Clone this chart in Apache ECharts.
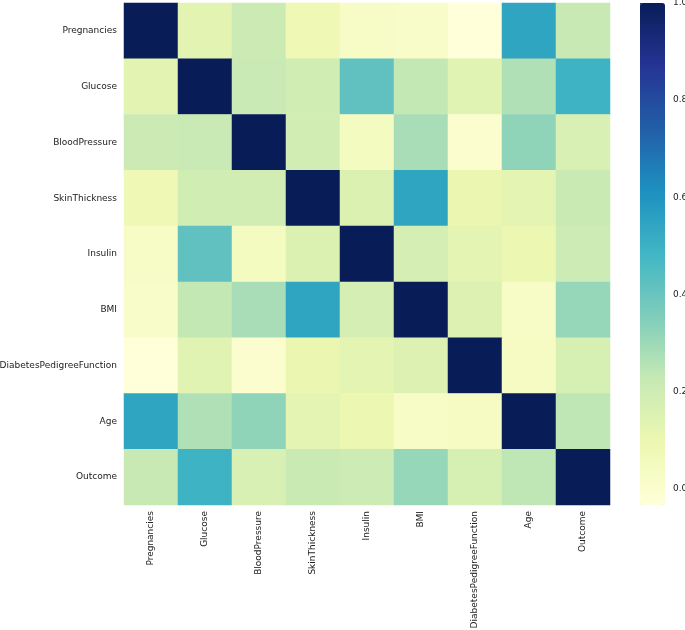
<!DOCTYPE html>
<html>
<head>
<meta charset="utf-8">
<script src="https://cdn.jsdelivr.net/npm/echarts@6/dist/echarts.min.js"></script>
<style>html,body{margin:0;padding:0;background:#fff;}#c{width:685px;height:630px;}</style>
</head>
<body>
<div id="c"></div>
<script>
const categories = ['Pregnancies','Glucose','BloodPressure','SkinThickness','Insulin','BMI','DiabetesPedigreeFunction','Age','Outcome'];
const rowPregnancies   = [1.000, 0.128, 0.209, 0.082, 0.025, 0.022, -0.034, 0.544, 0.222];
const rowGlucose       = [0.128, 1.000, 0.219, 0.193, 0.419, 0.231, 0.137, 0.267, 0.493];
const rowBloodPressure = [0.209, 0.219, 1.000, 0.192, 0.045, 0.281, -0.003, 0.325, 0.166];
const rowSkinThickness = [0.082, 0.193, 0.192, 1.000, 0.155, 0.543, 0.102, 0.126, 0.215];
const rowInsulin       = [0.025, 0.419, 0.045, 0.155, 1.000, 0.180, 0.126, 0.097, 0.204];
const rowBMI           = [0.022, 0.231, 0.281, 0.543, 0.180, 1.000, 0.153, 0.026, 0.312];
const rowDPF           = [-0.034, 0.137, -0.003, 0.102, 0.126, 0.153, 1.000, 0.034, 0.174];
const rowAge           = [0.544, 0.267, 0.325, 0.126, 0.097, 0.026, 0.034, 1.000, 0.238];
const rowOutcome       = [0.222, 0.493, 0.166, 0.215, 0.204, 0.312, 0.174, 0.238, 1.000];
const colorbarTicks = [0.0, 0.2, 0.4, 0.6, 0.8, 1.0];
const ylgnbu = ['#ffffd9','#edf8b1','#c7e9b4','#7fcdbb','#41b6c4','#1d91c0','#225ea8','#253494','#081d58'];

const matrix = [rowPregnancies,rowGlucose,rowBloodPressure,rowSkinThickness,rowInsulin,rowBMI,rowDPF,rowAge,rowOutcome];
const data = [];
matrix.forEach((row,i)=>row.forEach((v,j)=>data.push([j,i,v])));
const flat = matrix.flat();
const vmin = Math.min(...flat), vmax = Math.max(...flat);

const txt = {fontFamily:'DejaVu Sans', fontSize:9, color:'#222'};
const chart = echarts.init(document.getElementById('c'), null, {renderer:'canvas'});
chart.setOption({
  animation:false,
  backgroundColor:'#fff',
  grid:[{left:124, top:3, width:486, height:502, outerBoundsMode:'none', containLabel:false},
        {left:640, top:3, width:25, height:502, outerBoundsMode:'none', containLabel:false}],
  xAxis:[
    {type:'category', data:categories, gridIndex:0, position:'bottom',
     axisLabel:Object.assign({rotate:90, margin:6, interval:0}, txt),
     axisTick:{alignWithLabel:true, length:4, lineStyle:{color:'#222'}},
     axisLine:{show:false}, splitLine:{show:false}},
    {type:'value', gridIndex:1, show:false, min:0, max:1}
  ],
  yAxis:[
    {type:'category', data:categories, gridIndex:0, inverse:true,
     axisLabel:Object.assign({margin:7, interval:0}, txt),
     axisTick:{alignWithLabel:true, length:4, lineStyle:{color:'#222'}},
     axisLine:{show:false}, splitLine:{show:false}},
    {type:'value', gridIndex:1, position:'right', min:vmin, max:vmax,
     axisLabel:Object.assign({margin:8, customValues:colorbarTicks, formatter:v=>v.toFixed(1)}, txt),
     axisTick:{show:true, length:4, customValues:colorbarTicks, lineStyle:{color:'#222'}},
     axisLine:{show:false}, splitLine:{show:false}}
  ],
  visualMap:{type:'continuous', min:vmin, max:vmax, seriesIndex:0, calculable:false,
    orient:'vertical', left:640, top:3, itemWidth:25, itemHeight:502, padding:0,
    inRange:{color:ylgnbu}, textStyle:{color:'transparent'}},
  series:[
    {type:'heatmap', data:data, xAxisIndex:0, yAxisIndex:0, progressive:0,
     emphasis:{disabled:true}, itemStyle:{borderWidth:0}},
    {type:'scatter', xAxisIndex:1, yAxisIndex:1, data:[], silent:true}
  ]
});
</script>
</body>
</html>
